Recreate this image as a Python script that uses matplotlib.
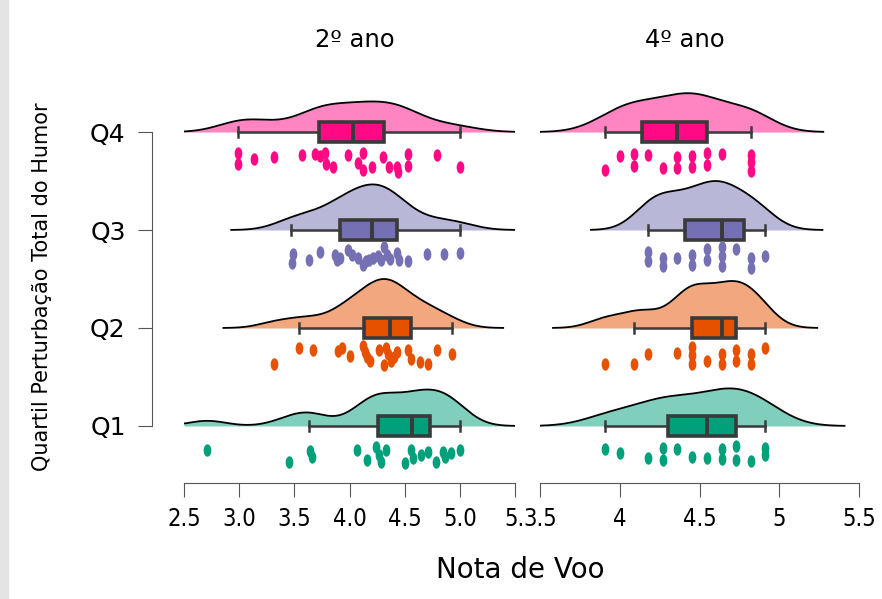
import numpy as np
import matplotlib.pyplot as plt
from matplotlib.path import Path
from matplotlib.patches import Rectangle

groups = ['Q1', 'Q2', 'Q3', 'Q4']
colors = ['#00A07A', '#E65100', '#7570B3', '#FF0A84']
panel_titles = ['2º ano', '4º ano']

# 2º ano - notas (x) e deslocamento vertical dos pontos (jitter)
ano2_q1 = [2.71, 3.45, 3.64, 3.66, 4.07, 4.16, 4.24, 4.27, 4.29, 4.33, 4.50, 4.56,
           4.58, 4.65, 4.71, 4.78, 4.85, 4.87, 4.92, 5.00]
jit2_q1 = [0.25, 0.37, 0.26, 0.32, 0.25, 0.35, 0.21, 0.30, 0.37, 0.25, 0.38, 0.25,
           0.33, 0.30, 0.27, 0.37, 0.27, 0.32, 0.28, 0.25]
ano2_q2 = [3.32, 3.54, 3.67, 3.90, 3.93, 4.00, 4.12, 4.14, 4.16, 4.19, 4.27, 4.31,
           4.33, 4.35, 4.38, 4.40, 4.43, 4.53, 4.56, 4.64, 4.71, 4.79, 4.93]
jit2_q2 = [0.37, 0.20, 0.22, 0.23, 0.20, 0.29, 0.18, 0.25, 0.30, 0.34, 0.22, 0.38,
           0.20, 0.27, 0.34, 0.30, 0.25, 0.22, 0.32, 0.35, 0.37, 0.22, 0.27]
ano2_q3 = [3.475, 3.49, 3.63, 3.73, 3.87, 3.89, 3.91, 3.99, 4.02, 4.08, 4.12, 4.15,
           4.18, 4.21, 4.26, 4.29, 4.31, 4.34, 4.37, 4.43, 4.45, 4.53, 4.70, 4.86, 5.00]
jit2_q3 = [0.34, 0.24, 0.31, 0.22, 0.26, 0.31, 0.29, 0.20, 0.26, 0.29, 0.36, 0.32,
           0.31, 0.29, 0.27, 0.31, 0.17, 0.26, 0.30, 0.23, 0.31, 0.32, 0.24, 0.24, 0.23]
ano2_q4 = [2.99, 2.99, 3.13, 3.32, 3.57, 3.69, 3.73, 3.78, 3.79, 3.85, 3.99, 4.08,
           4.12, 4.12, 4.20, 4.30, 4.36, 4.43, 4.44, 4.53, 4.53, 4.79, 5.00]
jit2_q4 = [0.21, 0.33, 0.28, 0.26, 0.23, 0.22, 0.24, 0.21, 0.33, 0.36, 0.23, 0.32,
           0.21, 0.39, 0.36, 0.26, 0.36, 0.36, 0.41, 0.22, 0.35, 0.23, 0.36]

# 4º ano
ano4_q1 = [3.91, 4.00, 4.18, 4.27, 4.27, 4.36, 4.45, 4.55, 4.64, 4.64, 4.73, 4.73,
           4.82, 4.91, 4.91]
jit4_q1 = [0.23, 0.28, 0.33, 0.22, 0.35, 0.23, 0.32, 0.33, 0.23, 0.34, 0.20, 0.35,
           0.36, 0.22, 0.30]
ano4_q2 = [3.91, 4.09, 4.18, 4.36, 4.45, 4.45, 4.45, 4.55, 4.64, 4.64, 4.73, 4.73,
           4.82, 4.82, 4.91]
jit4_q2 = [0.37, 0.37, 0.27, 0.26, 0.19, 0.28, 0.37, 0.34, 0.27, 0.37, 0.22, 0.34,
           0.27, 0.37, 0.20]
ano4_q3 = [4.18, 4.18, 4.27, 4.27, 4.36, 4.45, 4.45, 4.55, 4.55, 4.64, 4.64, 4.64,
           4.73, 4.82, 4.82, 4.91]
jit4_q3 = [0.22, 0.32, 0.29, 0.37, 0.29, 0.26, 0.36, 0.19, 0.31, 0.17, 0.27, 0.37,
           0.19, 0.29, 0.39, 0.27]
ano4_q4 = [3.91, 4.00, 4.09, 4.09, 4.18, 4.27, 4.36, 4.36, 4.45, 4.45, 4.55, 4.55,
           4.64, 4.82, 4.82, 4.82]
jit4_q4 = [0.39, 0.24, 0.22, 0.35, 0.23, 0.37, 0.26, 0.37, 0.24, 0.36, 0.21, 0.34,
           0.22, 0.23, 0.31, 0.40]

# box stats (Q1..Q4)
whislo_2 = [3.63, 3.54, 3.47, 2.99]
q1_2 = [4.26, 4.13, 3.91, 3.72]
med_2 = [4.57, 4.37, 4.20, 4.03]
q3_2 = [4.73, 4.56, 4.43, 4.31]
whishi_2 = [5.00, 4.93, 5.00, 5.00]

whislo_4 = [3.91, 4.09, 4.18, 3.91]
q1_4 = [4.30, 4.45, 4.41, 4.14]
med_4 = [4.55, 4.64, 4.64, 4.36]
q3_4 = [4.73, 4.73, 4.78, 4.55]
whishi_4 = [4.91, 4.91, 4.91, 4.82]

xticks_2 = [2.5, 3.0, 3.5, 4.0, 4.5, 5.0, 5.5]
xticklabels_2 = ['2.5', '3.0', '3.5', '4.0', '4.5', '5.0', '5.']
xticks_4 = [3.5, 4, 4.5, 5, 5.5]
xticklabels_4 = ['3.5', '4', '4.5', '5', '5.5']

panels = [
    dict(vals=[ano2_q1, ano2_q2, ano2_q3, ano2_q4], jit=[jit2_q1, jit2_q2, jit2_q3, jit2_q4],
         stats=(whislo_2, q1_2, med_2, q3_2, whishi_2), xlim=(2.5, 5.5),
         ticks=xticks_2, labels=xticklabels_2),
    dict(vals=[ano4_q1, ano4_q2, ano4_q3, ano4_q4], jit=[jit4_q1, jit4_q2, jit4_q3, jit4_q4],
         stats=(whislo_4, q1_4, med_4, q3_4, whishi_4), xlim=(3.5, 5.5),
         ticks=xticks_4, labels=xticklabels_4),
]


def kde(vals, iqr, lo, hi):
    # gaussian density, bandwidth like R's bw.nrd0, range extended by 3*bw
    v = np.asarray(vals, dtype=float)
    n = len(v)
    bw = 0.9 * min(v.std(ddof=1), iqr / 1.34) * n ** -0.2
    grid = np.linspace(max(v.min() - 3 * bw, lo), min(v.max() + 3 * bw, hi), 400)
    d = np.exp(-0.5 * ((grid[:, None] - v[None, :]) / bw) ** 2).sum(1)
    return grid, d / (n * bw * np.sqrt(2 * np.pi))


# elliptic point marker (taller than wide)
circ = Path.unit_circle()
ellipse = Path(circ.vertices * np.array([0.62, 1.0]), circ.codes)

W, H = 882, 599
fig = plt.figure(figsize=(W / 100, H / 100), dpi=100)
fig.patches.append(Rectangle((0, 0), 8 / W, 1, transform=fig.transFigure,
                             color='#e4e4e4', zorder=0))

grey = '#555555'
boxc = '#3a3a3a'
tickfont = dict(family='DejaVu Sans', stretch='condensed', size=17)
ylo, yhi = 0.418, 4.735
axes_px = [(184, 515), (540, 859)]

for i, (p, (x0, x1)) in enumerate(zip(panels, axes_px)):
    ax = fig.add_axes([x0 / W, 1 - 483 / H, (x1 - x0) / W, 423 / H])
    ax.set_xlim(*p['xlim'])
    ax.set_ylim(ylo, yhi)

    lo, q1, med, q3, hi = p['stats']
    dens = [kde(v, q3[k] - q1[k], *p['xlim']) for k, v in enumerate(p['vals'])]
    scale = 0.5 / max(d.max() for _, d in dens)
    for k, ((g, d), c) in enumerate(zip(dens, colors)):
        lev = k + 1
        ax.fill_between(g, lev, lev + d * scale, color=c, alpha=0.5, lw=0, zorder=1)
        ax.plot(g, lev + d * scale, color='black', lw=1.3, zorder=2)

    bstats = [dict(whislo=lo[k], q1=q1[k], med=med[k], q3=q3[k], whishi=hi[k], fliers=[])
              for k in range(4)]
    bp = ax.bxp(bstats, positions=[1, 2, 3, 4], widths=0.21, orientation='horizontal',
                patch_artist=True, showfliers=False, capwidths=0.1, manage_ticks=False,
                boxprops=dict(edgecolor=boxc, lw=2.6),
                medianprops=dict(color=boxc, lw=2.8),
                whiskerprops=dict(color=boxc, lw=1.8),
                capprops=dict(color=boxc, lw=1.8))
    for patch, c in zip(bp['boxes'], colors):
        patch.set_facecolor(c)
        patch.set_zorder(3)
    for key in ('medians', 'whiskers', 'caps'):
        for line in bp[key]:
            line.set_zorder(3)

    for k, (v, j, c) in enumerate(zip(p['vals'], p['jit'], colors)):
        ax.scatter(v, (k + 1) - np.asarray(j), marker=ellipse, s=80, color=c,
                   lw=0, zorder=4)

    for s in ('top', 'right'):
        ax.spines[s].set_visible(False)
    ax.spines['bottom'].set_bounds(*p['xlim'])
    ax.spines['bottom'].set_color(grey)
    ax.set_xticks(p['ticks'])
    ax.set_xticklabels(p['labels'], fontdict=tickfont)
    ax.tick_params(axis='x', length=10, color=grey, pad=7)

    if i == 0:
        ax.spines['left'].set_position(('outward', 23))
        ax.spines['left'].set_bounds(1, 4)
        ax.spines['left'].set_color(grey)
        ax.set_yticks([1, 2, 3, 4])
        ax.set_yticklabels(groups, fontsize=18)
        ax.tick_params(axis='y', length=10, color=grey, pad=9)
    else:
        ax.spines['left'].set_visible(False)
        ax.set_yticks([])
    ax.patch.set_alpha(0)

fig.text(355 / W, 1 - 40 / H, panel_titles[0], ha='center', va='center', fontsize=17.5)
fig.text(685 / W, 1 - 40 / H, panel_titles[1], ha='center', va='center', fontsize=17.5)
fig.text(520 / W, 1 - 570 / H, 'Nota de Voo', ha='center', va='center', fontsize=20)
fig.text(42 / W, 1 - 287 / H, 'Quartil Perturbação Total do Humor', rotation=90,
         ha='center', va='center', fontsize=15)

fig.savefig('out.png', dpi=100)
